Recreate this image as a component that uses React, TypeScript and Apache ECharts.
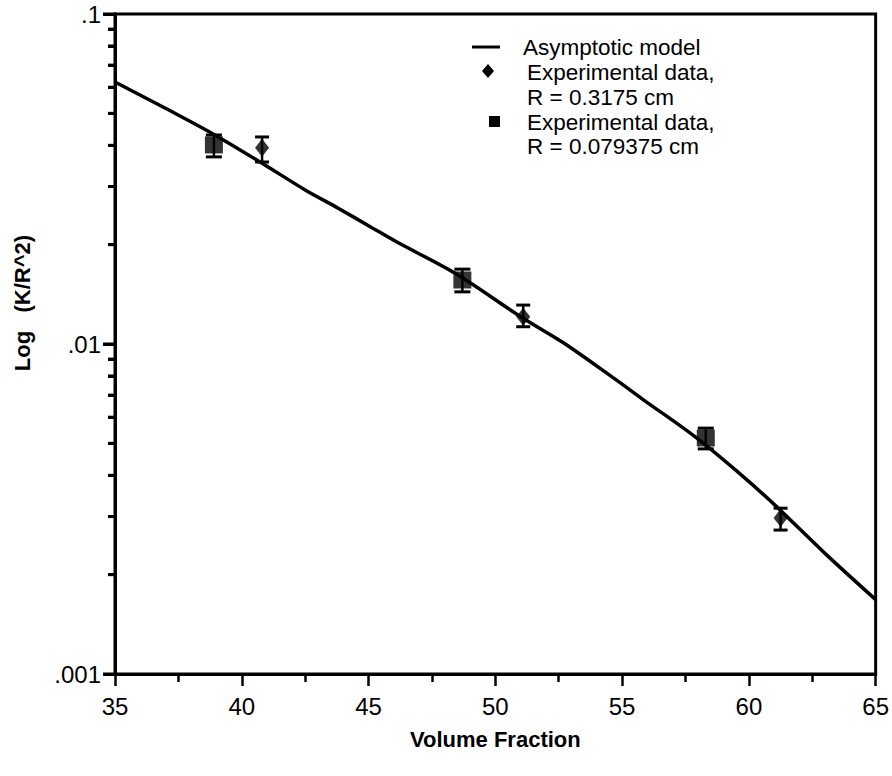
import React, { useEffect, useRef } from "react";
import * as echarts from "echarts";

const FONT = "'Liberation Sans', Arial, Helvetica, sans-serif";

// Asymptotic model curve
const modelX = [35, 37.2, 38.8, 40.8, 42.5, 43.8, 45.1, 46.1, 48.4, 51.0, 52.7, 54.7, 55.8, 57.9, 59.8, 61.1, 63, 65];
const modelY = [0.0622, 0.0508, 0.0436, 0.0353, 0.0293, 0.0258, 0.0226, 0.0204, 0.0164, 0.0121, 0.01007, 0.00785, 0.00681, 0.00522, 0.00395, 0.00321, 0.00232, 0.00168];

// Experimental data, R = 0.3175 cm (diamonds)
const diamondX = [40.8, 51.1, 61.25];
const diamondY = [0.0393, 0.0121, 0.00297];
const diamondLow = [0.0356, 0.01128, 0.00273];
const diamondHigh = [0.0424, 0.01312, 0.00318];

// Experimental data, R = 0.079375 cm (squares)
const squareX = [38.9, 48.7, 58.3];
const squareY = [0.0401, 0.01563, 0.00519];
const squareLow = [0.0369, 0.01439, 0.00481];
const squareHigh = [0.043, 0.01686, 0.00556];

// Axis ticks
const yTickValues = [0.001, 0.01, 0.1];
const yTickLabels = [".001", ".01", ".1"];
const yMinorTicks = [
  0.002, 0.003, 0.004, 0.005, 0.006, 0.007, 0.008, 0.009,
  0.02, 0.03, 0.04, 0.05, 0.06, 0.07, 0.08, 0.09,
];

function errorBarRenderer(halfWidth: number) {
  return (params: any, api: any) => {
    const x = api.value(0);
    const lo = api.value(1);
    const hi = api.value(2);
    const p1 = api.coord([x, lo]);
    const p2 = api.coord([x, hi]);
    const st = { stroke: "#000", lineWidth: 3 };
    return {
      type: "group",
      children: [
        { type: "line", shape: { x1: p1[0], y1: p1[1], x2: p2[0], y2: p2[1] }, style: { stroke: "#000", lineWidth: 2.5 } },
        { type: "line", shape: { x1: p1[0] - halfWidth, y1: p1[1], x2: p1[0] + halfWidth, y2: p1[1] }, style: st },
        { type: "line", shape: { x1: p2[0] - halfWidth, y1: p2[1], x2: p2[0] + halfWidth, y2: p2[1] }, style: st },
      ],
    };
  };
}

export default function App() {
  const ref = useRef<HTMLDivElement>(null);
  useEffect(() => {
    if (!ref.current) return;
    const chart = echarts.init(ref.current, undefined, { renderer: "svg" });
    const yLabel = (v: number) => {
      let best = 0;
      let bd = Infinity;
      yTickValues.forEach((t, i) => {
        const d = Math.abs(Math.log10(t) - Math.log10(v));
        if (d < bd) { bd = d; best = i; }
      });
      return yTickLabels[best];
    };
    const txt = { fontFamily: FONT, fontSize: 22.5, fill: "#000" };
    const xMin = 35;
    const baseGraphic: any[] = [
      {
        type: "text",
        x: 22,
        y: 303,
        rotation: Math.PI / 2,
        style: { text: "Log   (K/R^2)", fontFamily: FONT, fontSize: 22, fontWeight: "bold", fill: "#000", align: "center", verticalAlign: "middle" },
      },
      { type: "line", shape: { x1: 472, y1: 47, x2: 500, y2: 47 }, style: { stroke: "#000", lineWidth: 3 } },
      { type: "text", x: 523, y: 47, style: { ...txt, text: "Asymptotic model", verticalAlign: "middle" } },
      { type: "polygon", shape: { points: [[488, 64], [494, 71], [488, 78], [482, 71]] }, style: { fill: "#000" } },
      { type: "text", x: 527, y: 72, style: { ...txt, text: "Experimental data,", verticalAlign: "middle" } },
      { type: "text", x: 527, y: 97, style: { ...txt, text: "R = 0.3175 cm", verticalAlign: "middle" } },
      { type: "rect", shape: { x: 489, y: 116, width: 11, height: 11 }, style: { fill: "#000" } },
      { type: "text", x: 527, y: 122, style: { ...txt, text: "Experimental data,", verticalAlign: "middle" } },
      { type: "text", x: 527, y: 146, style: { ...txt, text: "R = 0.079375 cm", verticalAlign: "middle" } },
    ];
    chart.setOption({
      animation: false,
      backgroundColor: "#fff",
      grid: { left: 115, right: 11, top: 14, bottom: 102, show: true, borderColor: "#000", borderWidth: 3, backgroundColor: "transparent" },
      xAxis: {
        type: "value",
        min: xMin,
        max: 65,
        interval: 5,
        axisLine: { show: true, onZero: false, lineStyle: { color: "#000", width: 3 } },
        axisTick: { show: true, inside: false, length: 12, lineStyle: { color: "#000", width: 2.5 } },
        minorTick: { show: true, splitNumber: 2, length: 8, lineStyle: { color: "#000", width: 2.5 } },
        axisLabel: { color: "#000", fontSize: 24, fontFamily: FONT, margin: 20 },
        splitLine: { show: false },
        minorSplitLine: { show: false },
        name: "Volume Fraction",
        nameLocation: "middle",
        nameGap: 54,
        nameTextStyle: { color: "#000", fontSize: 22, fontWeight: "bold", fontFamily: FONT },
      },
      yAxis: {
        type: "log",
        logBase: 10,
        min: 0.001,
        max: 0.1,
        position: "left",
        axisLine: { show: true, onZero: false, lineStyle: { color: "#000", width: 3 } },
        axisTick: { show: true, inside: false, length: 12, lineStyle: { color: "#000", width: 3 } },
        minorTick: { show: true, splitNumber: 9, length: 7, lineStyle: { color: "#000", width: 3 } },
        axisLabel: { color: "#000", fontSize: 24, fontFamily: FONT, margin: 14, formatter: yLabel },
        splitLine: { show: false },
        minorSplitLine: { show: false },
      },
      series: [
        {
          name: "Asymptotic model",
          type: "line",
          data: modelX.map((x, i) => [x, modelY[i]]),
          showSymbol: false,
          smooth: 0.3,
          lineStyle: { color: "#000", width: 3.5 },
          z: 2,
        },
        {
          type: "custom",
          name: "err-diamond",
          renderItem: errorBarRenderer(7),
          data: diamondX.map((x, i) => [x, diamondLow[i], diamondHigh[i]]),
          encode: { x: 0, y: [1, 2] },
          z: 3,
        },
        {
          type: "custom",
          name: "err-square",
          renderItem: errorBarRenderer(8),
          data: squareX.map((x, i) => [x, squareLow[i], squareHigh[i]]),
          encode: { x: 0, y: [1, 2] },
          z: 3,
        },
        {
          name: "Experimental data, R = 0.3175 cm",
          type: "scatter",
          symbol: "diamond",
          symbolSize: [14, 18],
          itemStyle: { color: "#000" },
          data: diamondX.map((x, i) => [x, diamondY[i]]),
          z: 4,
        },
        {
          name: "Experimental data, R = 0.079375 cm",
          type: "scatter",
          symbol: "rect",
          symbolSize: [18, 17],
          itemStyle: { color: "#000" },
          data: squareX.map((x, i) => [x, squareY[i]]),
          z: 4,
        },
      ],
      graphic: baseGraphic,
    });

    // y-axis ticks (major and 2..9 minor) placed through the chart's own log scale
    const tickGraphic: any[] = [];
    const addTick = (v: number, len: number) => {
      const p = chart.convertToPixel({ gridIndex: 0 }, [xMin, v]) as number[];
      if (!p || !isFinite(p[0]) || !isFinite(p[1])) return;
      tickGraphic.push({
        type: "rect",
        z: 100,
        shape: { x: p[0] - len, y: p[1] - 1.5, width: len + 1, height: 3 },
        style: { fill: "#000" },
      });
    };
    yTickValues.forEach((v) => addTick(v, 12));
    yMinorTicks.forEach((v) => addTick(v, 7));
    chart.setOption({ graphic: [...baseGraphic, ...tickGraphic] });

    return () => chart.dispose();
  }, []);
  return <div ref={ref} style={{ position: "fixed", left: 0, top: 0, width: 892, height: 776 }} />;
}
